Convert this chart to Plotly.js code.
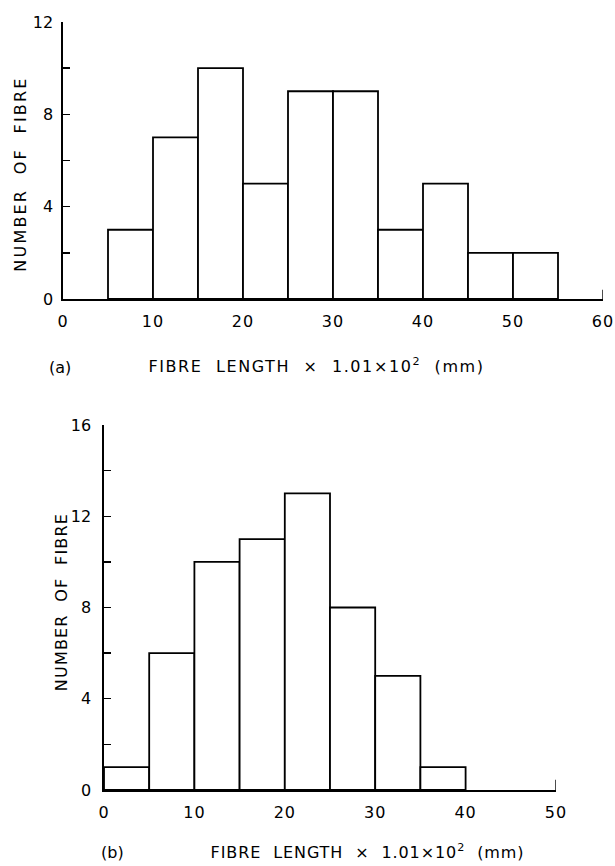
<!DOCTYPE html>
<html>
<head>
<meta charset="utf-8">
<script src="https://cdn.plot.ly/plotly-3.0.1.min.js"></script>
<style>html,body{margin:0;padding:0;background:#fff;}#chart{width:615px;height:866px;}</style>
</head>
<body>
<div id="chart"></div>
<script>
// Panel (a)
const binLeftA = [5, 10, 15, 20, 25, 30, 35, 40, 45, 50];
const countsA  = [3, 7, 10, 5, 9, 9, 3, 5, 2, 2];
// Panel (b)
const binLeftB = [0, 5, 10, 15, 20, 25, 30, 35];
const countsB  = [1, 6, 10, 11, 13, 8, 5, 1];
const binWidth = 5;

const xTicksA = [0, 10, 20, 30, 40, 50, 60];
const xTicksB = [0, 10, 20, 30, 40, 50];
const yTicksA = [0, 4, 8, 12];
const yTicksB = [0, 4, 8, 12, 16];

const NB = '\u00a0';
const xTitle = 'FIBRE' + NB + ' LENGTH' + NB + ' \u00d7 ' + NB + '1.01\u00d710<sup>2</sup>' + NB + ' (mm)';
const yTitle = 'NUMBER' + NB + ' OF' + NB + ' FIBRE';

const FONT = 'DejaVu Sans, Liberation Sans, sans-serif';
const W = 615, H = 866;
const px = v => v / W;
const py = v => 1 - v / H;

const barStyle = {color: '#ffffff', line: {color: '#000000', width: 1.8}};

const data = [
  {type: 'bar', x: binLeftA, y: countsA, width: binWidth, offset: 0,
   marker: barStyle, xaxis: 'x', yaxis: 'y', hoverinfo: 'skip'},
  {type: 'bar', x: binLeftB, y: countsB, width: binWidth, offset: 0,
   marker: barStyle, xaxis: 'x2', yaxis: 'y2', hoverinfo: 'skip'}
];

const axCommon = {
  showgrid: false, zeroline: false, showline: true,
  linecolor: '#000', linewidth: 1.6,
  tickfont: {family: FONT, size: 16, color: '#000'},
  fixedrange: true
};
const minorTicks = {tickmode: 'linear', tick0: 0, dtick: 2, ticks: 'inside',
  ticklen: 7, tickwidth: 1.4, tickcolor: '#000', showgrid: false};

const layout = {
  width: W, height: H,
  margin: {l: 0, r: 0, t: 0, b: 0},
  paper_bgcolor: '#fff', plot_bgcolor: '#fff',
  showlegend: false,
  bargap: 0,
  xaxis: Object.assign({}, axCommon, {
    domain: [px(63), px(603)], range: [0, 60], anchor: 'y',
    tickmode: 'array', tickvals: xTicksA, ticks: '', ticklabelstandoff: 7
  }),
  yaxis: Object.assign({}, axCommon, {
    domain: [py(299), py(22)], range: [0, 12], anchor: 'x',
    tickmode: 'array', tickvals: yTicksA,
    ticks: 'inside', ticklen: 7, tickwidth: 1.4, tickcolor: '#000',
    ticklabelstandoff: 5, minor: minorTicks
  }),
  xaxis2: Object.assign({}, axCommon, {
    domain: [px(104), px(556)], range: [0, 50], anchor: 'y2',
    tickmode: 'array', tickvals: xTicksB, ticks: '', ticklabelstandoff: 7
  }),
  yaxis2: Object.assign({}, axCommon, {
    domain: [py(790), py(425)], range: [0, 16], anchor: 'x2',
    tickmode: 'array', tickvals: yTicksB,
    ticks: 'inside', ticklen: 7, tickwidth: 1.4, tickcolor: '#000',
    ticklabelstandoff: 8, minor: minorTicks
  }),
  shapes: [
    {type: 'line', xref: 'x', yref: 'y', x0: 60, x1: 60, y0: 0, y1: 0.4,
     line: {color: '#000', width: 1.4}},
    {type: 'line', xref: 'x2', yref: 'y2', x0: 50, x1: 50, y0: 0, y1: 0.45,
     line: {color: '#000', width: 1.4}}
  ],
  annotations: [
    {text: '(a)', xref: 'paper', yref: 'paper', x: px(60), y: py(367),
     showarrow: false, xanchor: 'center', yanchor: 'middle',
     font: {family: FONT, size: 16, color: '#000'}},
    {text: xTitle, xref: 'paper', yref: 'paper', x: px(316), y: py(366),
     showarrow: false, xanchor: 'center', yanchor: 'middle',
     font: {family: FONT, size: 16, color: '#000'}},
    {text: yTitle, xref: 'paper', yref: 'paper', x: px(21), y: py(174),
     showarrow: false, textangle: -90, xanchor: 'center', yanchor: 'middle',
     font: {family: FONT, size: 16, color: '#000'}},
    {text: '(b)', xref: 'paper', yref: 'paper', x: px(112), y: py(852),
     showarrow: false, xanchor: 'center', yanchor: 'middle',
     font: {family: FONT, size: 16, color: '#000'}},
    {text: xTitle, xref: 'paper', yref: 'paper', x: px(367), y: py(851),
     showarrow: false, xanchor: 'center', yanchor: 'middle',
     font: {family: FONT, size: 16, color: '#000'}},
    {text: yTitle, xref: 'paper', yref: 'paper', x: px(61), y: py(602),
     showarrow: false, textangle: -90, xanchor: 'center', yanchor: 'middle',
     font: {family: FONT, size: 16, color: '#000'}}
  ]
};

// extra letter spacing per annotation (styling only)
const spacing = ['0px', '1.6px', '2.2px', '0px', '0.9px', '1.2px'];

Plotly.newPlot('chart', data, layout, {staticPlot: true, displayModeBar: false}).then(() => {
  const root = document.getElementById('chart');
  root.querySelectorAll('.annotation-text').forEach((t, i) => {
    if (spacing[i]) t.style.letterSpacing = spacing[i];
  });
  root.querySelectorAll('.xtick text, .x2tick text').forEach(t => {
    t.style.letterSpacing = '1px';
  });
  // drop Plotly's empty placeholder axis-title texts
  root.querySelectorAll('text.xtitle, text.ytitle, text.x2title, text.y2title, text.gtitle').forEach(t => {
    if (!t.textContent.trim()) t.remove();
  });
});
</script>
</body>
</html>
